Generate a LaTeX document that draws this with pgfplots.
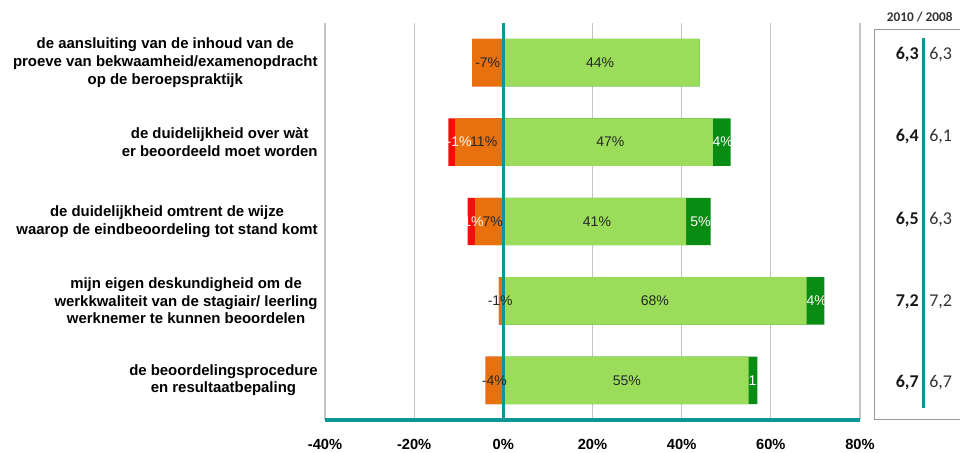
\documentclass[border=0pt]{standalone}
\usepackage{pgfplots}
\pgfplotsset{compat=1.18}
\usepackage{fontspec}
\setmainfont{Liberation Sans}
\newfontfamily\carlito{Carlito}
\definecolor{orng}{RGB}{232,113,14}
\definecolor{rd}{RGB}{250,12,12}
\definecolor{lgr}{RGB}{155,221,90}
\definecolor{dgr}{RGB}{8,140,20}
\definecolor{tl}{RGB}{12,150,150}
\definecolor{grd}{RGB}{196,196,196}
\tikzset{bv/.style={font=\carlito\bfseries\fontsize{13.5}{15}\selectfont, text=black!90},
         rv/.style={font=\carlito\fontsize{13.5}{15}\selectfont, text=black!80}}
\begin{document}
\begin{tikzpicture}
\useasboundingbox (-243.75pt,-24.75pt) rectangle (476.25pt,315pt);
\begin{axis}[
  at={(0pt,0pt)}, anchor=south west, scale only axis,
  width=401.25pt, height=297.75pt,
  xmin=-40, xmax=80, ymin=0.5, ymax=5.5, y dir=reverse,
  axis x line*=bottom, axis y line*=left,
  x axis line style={tl, line width=2.6pt, -},
  y axis line style={draw=none},
  xtick={-40,-20,...,80},
  xticklabel={\pgfmathprintnumber{\tick}\%},
  /pgf/number format/assume math mode=true,
  xticklabel style={font=\bfseries\fontsize{11}{13}\selectfont, yshift=-11pt},
  xtick style={draw=none},
  xmajorgrids, grid style={grd, line width=0.8pt},
  ytick={1,2,3,4,5},
  yticklabels={
    {de aansluiting van de inhoud van de\\proeve van bekwaamheid/examenopdracht\\op de beroepspraktijk},
    {de duidelijkheid over wàt\\er beoordeeld moet worden},
    {de duidelijkheid omtrent de wijze\\waarop de eindbeoordeling tot stand komt},
    {mijn eigen deskundigheid om de\\werkkwaliteit van de stagiair/ leerling\\werknemer te kunnen beoordelen},
    {de beoordelingsprocedure\\en resultaatbepaling}},
  yticklabel style={align=center, font=\bfseries\fontsize{11.2}{13.2}\selectfont, xshift=-2pt},
  ytick style={draw=none},
  clip=false,
  bar width=35.6pt,
]
% cumulative ends of the stacked segments
\addplot[xbar, bar shift=0pt, fill=dgr, draw=none] coordinates {(44,1) (51,2) (46.5,3) (72,4) (57,5)};
\addplot[xbar, bar shift=0pt, fill=lgr, draw=none] coordinates {(44,1) (47,2) (41,3) (68,4) (55,5)};
\addplot[xbar, bar shift=0pt, fill=rd, draw=none] coordinates {(-7,1) (-12.3,2) (-8,3) (-1,4) (-4,5)};
\addplot[xbar, bar shift=0pt, fill=orng, draw=none] coordinates {(-7,1) (-10.8,2) (-6.3,3) (-1,4) (-4,5)};
% dark labels
\addplot[draw=none, mark=none, nodes near coords={\pgfplotspointmeta\%}, point meta=explicit symbolic,
  nodes near coords style={anchor=center, font=\fontsize{10.5}{12}\selectfont, text=black!85}]
  coordinates {(-3.5,1) [-7] (21.7,1) [44]
               (-4.4,2) [11] (24,2) [47]
               (-2.4,3) [7] (21,3) [41]
               (-0.7,4) [-1] (34,4) [68]
               (-2,5) [-4] (27.7,5) [55]};
% white labels
\addplot[draw=none, mark=none, nodes near coords={\pgfplotspointmeta\%}, point meta=explicit symbolic,
  nodes near coords style={anchor=center, font=\fontsize{10.5}{12}\selectfont, text=white}]
  coordinates {(-9.9,2) [-1] (49.2,2) [4]
               (-7.2,3) [-1] (44.2,3) [5]
               (70.3,4) [4]};
\addplot[draw=none, mark=none, nodes near coords={\pgfplotspointmeta}, point meta=explicit symbolic,
  nodes near coords style={anchor=center, font=\fontsize{10.5}{12}\selectfont, text=white}]
  coordinates {(55.9,5) [1]};
\draw[tl, line width=2.6pt] (axis cs:0,0.5) -- (axis cs:0,5.5);
% side table 2010 / 2008
\draw[black!40, line width=0.8pt] (axis cs:83.2,0.576) rectangle (axis cs:104,5.49);
\draw[tl, line width=2.2pt] (axis cs:94.3,0.689) -- (axis cs:94.3,5.35);
\node[font=\carlito\bfseries\fontsize{10}{12}\selectfont, text=black!80] at (axis cs:93.4,0.424) {2010 / 2008};
\node[bv] at (axis cs:90.6,0.903) {6,3};
\node[rv] at (axis cs:98.1,0.903) {6,3};
\node[bv] at (axis cs:90.6,1.936) {6,4};
\node[rv] at (axis cs:98.1,1.936) {6,1};
\node[bv] at (axis cs:90.6,2.98) {6,5};
\node[rv] at (axis cs:98.1,2.98) {6,3};
\node[bv] at (axis cs:90.6,4.01) {7,2};
\node[rv] at (axis cs:98.1,4.01) {7,2};
\node[bv] at (axis cs:90.6,5.03) {6,7};
\node[rv] at (axis cs:98.1,5.03) {6,7};
\end{axis}
\end{tikzpicture}
\end{document}
